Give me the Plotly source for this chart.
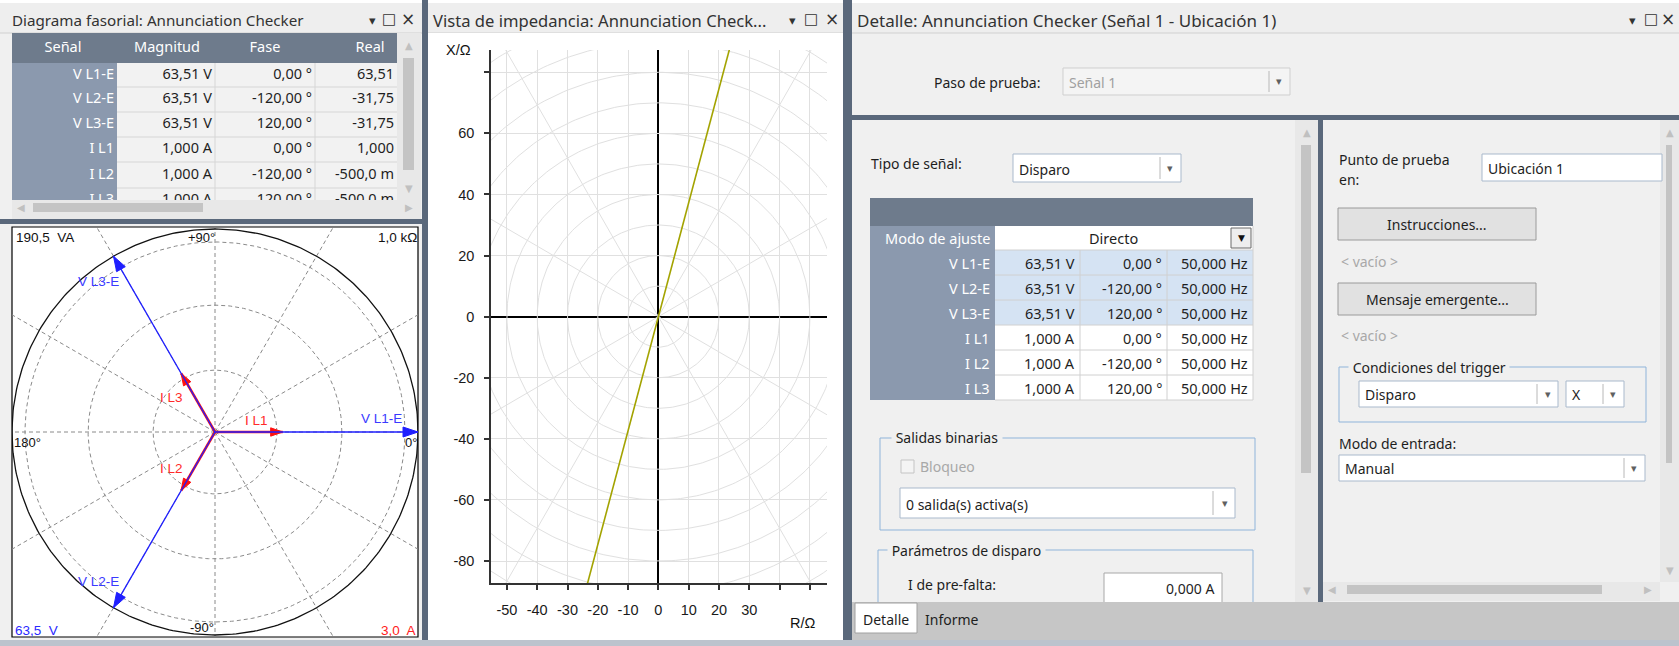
import numpy as np
import plotly.graph_objects as go

W, H = 1679, 646

# ---------------- data ----------------
signals = ["V L1-E", "V L2-E", "V L3-E", "I L1", "I L2", "I L3"]
magnitudes = [63.51, 63.51, 63.51, 1.000, 1.000, 1.000]
units = ["V", "V", "V", "A", "A", "A"]
phases_deg = [0.00, -120.00, 120.00, 0.00, -120.00, 120.00]
frequencies_hz = [50.000, 50.000, 50.000, 50.000, 50.000, 50.000]
real_parts = ["63,51", "-31,75", "-31,75", "1,000", "-500,0 m", "-500,0 m"]
table_headers = ["Señal", "Magnitud", "Fase", "Real"]

voltage_full_scale = 63.5   # V at outer circle
current_full_scale = 3.0    # A at outer circle
power_scale_label = "190,5  VA"
impedance_scale_label = "1,0 kΩ"
voltage_scale_label = "63,5  V"
current_scale_label = "3,0  A"

impedance_line_angle_deg = 75.0
r_ticks = [-50, -40, -30, -20, -10, 0, 10, 20, 30, 40, 50]
r_ticklabels = ["-50", "-40", "-30", "-20", "-10", "0", "10", "20", "30", "", ""]
x_ticks = [-80, -60, -40, -20, 0, 20, 40, 60, 80]
x_ticklabels = ["-80", "-60", "-40", "-20", "0", "20", "40", "60", ""]


def fmt_mag(m, u):
    return (f"{m:.2f}" if u == "V" else f"{m:.3f}").replace(".", ",") + " " + u


def fmt_phase(p):
    return f"{p:.2f}".replace(".", ",") + " °"


def fmt_freq(f):
    return f"{f:.3f}".replace(".", ",") + " Hz"


# ---------------- helpers (pixel -> paper) ----------------
UI = "Noto Sans"
ARIAL = "Liberation Sans"
SYM = "DejaVu Sans"
SEP = "#5a687b"
shapes, annotations = [], []


def rect(x0, y0, x1, y1, fill, line=None, lw=1):
    shapes.append(dict(type="rect", xref="paper", yref="paper", layer="below",
                       x0=x0 / W, x1=x1 / W, y0=1 - y1 / H, y1=1 - y0 / H,
                       fillcolor=fill,
                       line=dict(color=line if line else "rgba(0,0,0,0)", width=lw if line else 0)))


def seg(x0, y0, x1, y1, color, lw=1):
    shapes.append(dict(type="line", xref="paper", yref="paper", layer="below",
                       x0=x0 / W, y0=1 - y0 / H, x1=x1 / W, y1=1 - y1 / H,
                       line=dict(color=color, width=lw)))


def txt(x, y, s, size=14, color="#1e1e1e", anchor="left", font=UI, bg=None):
    a = dict(xref="paper", yref="paper", x=x / W, y=1 - y / H, text=s, showarrow=False,
             xanchor=anchor, yanchor="middle", borderpad=0,
             font=dict(family=font, size=size, color=color))
    if bg:
        a["bgcolor"] = bg
    annotations.append(a)


def combo(x0, y0, x1, y1, text, div, arrow_x, border="#a9b9cc", fill="#ffffff", color="#1e1e1e"):
    rect(x0, y0, x1, y1, fill, border, 1)
    seg(div, y0 + 3, div, y1 - 3, "#b8b8b8", 1)
    txt(arrow_x, (y0 + y1) / 2, "▾", 11, "#606060", "center", SYM)
    txt(x0 + 5, (y0 + y1) / 2 + 1, text, 14, color)


def button(x0, y0, x1, y1, text):
    rect(x0, y0, x1, y1, "#e1e1e1", "#9a9a9a", 1)
    txt((x0 + x1) / 2, (y0 + y1) / 2, text, 14, "#1e1e1e", "center")


def vscroll(x0, x1, y0, y1, t0, t1):
    rect(x0, y0, x1, y1, "#e8e8e8")
    rect(x0 + 6, t0, x1 - 7, t1, "#c4c4c4")
    txt((x0 + x1) / 2, y0 + 12, "▲", 10, "#c0c0c0", "center", SYM)
    txt((x0 + x1) / 2, y1 - 12, "▼", 10, "#c0c0c0", "center", SYM)


def hscroll(x0, x1, y0, y1, t0, t1):
    rect(x0, y0, x1, y1, "#e8e8e8")
    rect(t0, y0 + 3, t1, y1 - 7, "#c4c4c4")
    txt(x0 + 9, (y0 + y1) / 2 - 2, "◀", 10, "#c0c0c0", "center", SYM)
    txt(x1 - 12, (y0 + y1) / 2 - 2, "▶", 10, "#c0c0c0", "center", SYM)


def icons(xd, xs, xx):
    txt(xd, 20, "▾", 13, "#333333", "center", SYM)
    txt(xs, 19, "□", 15, "#333333", "center", SYM)
    txt(xx, 19, "×", 17, "#333333", "center", SYM)


# ---------------- window chrome ----------------
rect(0, 0, W, 3, "#ffffff")
for (a, b) in [(0, 422), (428, 843), (852, W)]:
    rect(a, 3, b, 33, "#eeeeee")
    seg(a, 33, b, 33, "#d0d0d0", 1)
txt(11, 20, "Diagrama fasorial: Annunciation Checker", 15.2, "#333333")
icons(372, 389, 408)
txt(432, 20, "Vista de impedancia: Annunciation Check...", 16.6, "#333333")
icons(792, 811, 832)
txt(856, 20, "Detalle: Annunciation Checker (Señal 1 - Ubicación 1)", 17, "#333333")
icons(1632, 1651, 1668)

# left panel: table frame
rect(12, 33, 397, 63, "#6e7b8c")
rect(12, 63, 117, 200, "#8b99ae")
rect(117, 63, 397, 200, "#f2f2f2")
for yb in [87, 112, 137, 162, 188]:
    seg(117, yb, 397, yb, "#d6d6d6", 1)
for xb in [215, 315]:
    seg(xb, 63, xb, 200, "#d6d6d6", 1)
vscroll(397, 421, 33, 200, 58, 170)
hscroll(12, 421, 200, 219, 33, 203)
rect(0, 219, 422, 224, SEP)
# phasor box
rect(12, 227, 418, 637, "#ffffff", "#000000", 1.2)
# separators
rect(422, 0, 428, H, SEP)
rect(843, 0, 852, H, SEP)

# middle panel
rect(428, 33, 843, 640, "#ffffff")

# right panel
rect(852, 115, W, 120, SEP)
vscroll(1295, 1318, 120, 602, 145, 473)
rect(1318, 120, 1323, 602, SEP)
vscroll(1660, 1679, 120, 582, 145, 463)
hscroll(1323, 1660, 582, 601, 1347, 1602)

txt(933, 82, "Paso de prueba:", 14)
combo(1063, 68, 1290, 95, "Señal 1", 1269, 1279, border="#cfcfcf", fill="#f4f4f4", color="#a0a0a0")

txt(870, 163, "Tipo de señal:", 14)
combo(1013, 154, 1181, 182, "Disparo", 1160, 1170)

# signal definition table
rect(870, 198, 1253, 226, "#6e7b8c")
rect(870, 226, 995, 400, "#8b99ae")
rect(995, 226, 1253, 250, "#ffffff")
txt(991, 238, "Modo de ajuste", 14.5, "#ffffff", "right")
txt(1113, 238, "Directo", 14.5, "#1e1e1e", "center")
rect(1231, 228, 1251, 248, "#eeeeee", "#6a6a6a", 1)
txt(1241, 238, "▼", 9, "#111111", "center", SYM)
cols = [995, 1080, 1167, 1253]
for i, s in enumerate(signals):
    y0 = 250 + 25 * i
    fill = "#d5e3f3" if units[i] == "V" else "#ffffff"
    rect(995, y0, 1253, y0 + 25, fill)
    seg(995, y0, 1253, y0, "#d0d0d0", 1)
    txt(991, y0 + 12.5, s, 14.5, "#ffffff", "right")
    txt(cols[1] - 4, y0 + 12.5, fmt_mag(magnitudes[i], units[i]), 14.5, "#1e1e1e", "right")
    txt(cols[2] - 4, y0 + 12.5, fmt_phase(phases_deg[i]), 14.5, "#1e1e1e", "right")
    txt(cols[3] - 4, y0 + 12.5, fmt_freq(frequencies_hz[i]), 14.5, "#1e1e1e", "right")
for xb in cols[1:3]:
    seg(xb, 250, xb, 400, "#d0d0d0", 1)
seg(995, 400, 1253, 400, "#d0d0d0", 1)
seg(1253, 226, 1253, 400, "#d0d0d0", 1)

# Salidas binarias group
GB = "#8fb4da"
rect(880, 438, 1255, 530, "rgba(0,0,0,0)", GB, 1)
txt(891, 438, " Salidas binarias ", 14, "#1e1e1e", "left", UI, "#f0f0f0")
rect(901, 460, 914, 473, "#f4f4f4", "#c4c4c4", 1)
txt(919, 466, "Bloqueo", 14, "#a8a8a8")
combo(900, 488, 1235, 518, "0 salida(s) activa(s)", 1213, 1225)

# Parámetros de disparo group
rect(878, 550, 1253, 700, "rgba(0,0,0,0)", GB, 1)
txt(887, 550, " Parámetros de disparo ", 14, "#1e1e1e", "left", UI, "#f0f0f0")
txt(907, 584, "I de pre-falta:", 14)
rect(1104, 573, 1222, 603, "#ffffff", "#a8a8a8", 1)
txt(1215, 588, "0,000 A", 14, "#1e1e1e", "right")

# right sub-panel
txt(1338, 160, "Punto de prueba", 14)
txt(1338, 179, "en:", 14)
rect(1482, 154, 1662, 181, "#ffffff", "#a9b9cc", 1)
txt(1487, 168, "Ubicación 1", 14)
button(1338, 208, 1536, 240, "Instrucciones...")
txt(1340, 261, "< vacío >", 14, "#a8a8a8")
button(1338, 283, 1536, 315, "Mensaje emergente...")
txt(1340, 335, "< vacío >", 14, "#a8a8a8")
rect(1339, 367, 1646, 422, "rgba(0,0,0,0)", GB, 1)
txt(1348, 367, " Condiciones del trigger ", 14, "#1e1e1e", "left", UI, "#f0f0f0")
combo(1359, 381, 1558, 407, "Disparo", 1537, 1548)
combo(1566, 381, 1624, 407, "X", 1603, 1613)
txt(1338, 443, "Modo de entrada:", 14)
combo(1339, 455, 1645, 481, "Manual", 1624, 1634)

# tab strip
rect(852, 602, W, 640, "#c6c6c6")
rect(855, 603, 917, 633, "#ffffff", "#a0a0a0", 1)
txt(886, 619, "Detalle", 14, "#1e1e1e", "center")
txt(924, 619, "Informe", 14, "#1e1e1e")

# bottom bar
rect(0, 640, W, H, "#bcc3cd")

# ---------------- figure ----------------
fig = go.Figure()

# impedance plane: polar guide grid
theta = np.linspace(0, 2 * np.pi, 361)
gx, gy = [], []
for r in range(10, 130, 10):
    gx += list(r * np.cos(theta)) + [None]
    gy += list(r * np.sin(theta)) + [None]
for a in range(0, 360, 30):
    if a % 90 == 0:
        continue
    gx += [0, 160 * np.cos(np.radians(a)), None]
    gy += [0, 160 * np.sin(np.radians(a)), None]
fig.add_trace(go.Scatter(x=gx, y=gy, mode="lines", line=dict(color="#e0e0e0", width=1),
                         hoverinfo="skip", xaxis="x", yaxis="y"))
ang = np.radians(impedance_line_angle_deg)
fig.add_trace(go.Scatter(x=[-160 * np.cos(ang), 160 * np.cos(ang)],
                         y=[-160 * np.sin(ang), 160 * np.sin(ang)],
                         mode="lines", line=dict(color="#a3a300", width=1.6),
                         hoverinfo="skip", xaxis="x", yaxis="y"))

# phasor diagram (1 unit = outer circle radius)
R_PX = 203.0
CX, CY = 215.0, 432.0   # centre of the phasor box in pixels
rings = [0.305, 0.625, 0.936]
px_, py_ = [], []
for r in rings:
    px_ += list(r * np.cos(theta)) + [None]
    py_ += list(r * np.sin(theta)) + [None]
for a in range(0, 360, 30):
    px_ += [0, 1.8 * np.cos(np.radians(a)), None]
    py_ += [0, 1.8 * np.sin(np.radians(a)), None]
fig.add_trace(go.Scatter(x=px_, y=py_, mode="lines",
                         line=dict(color="#8a8a8a", width=1, dash="4px,3px"),
                         hoverinfo="skip", xaxis="x2", yaxis="y2"))
fig.add_trace(go.Scatter(x=list(np.cos(theta)), y=list(np.sin(theta)), mode="lines",
                         line=dict(color="#111111", width=1.3),
                         hoverinfo="skip", xaxis="x2", yaxis="y2"))

label_shift = {"V L1-E": (-37, -14), "V L2-E": (-15, -26), "V L3-E": (-15, 25),
               "I L1": (-26, -12), "I L2": (-10, -22), "I L3": (-10, 24)}
order = [i for i in range(len(signals)) if units[i] == "A"] + \
        [i for i in range(len(signals)) if units[i] == "V"]
for i in order:
    isv = units[i] == "V"
    scale = voltage_full_scale if isv else current_full_scale
    r = magnitudes[i] / scale
    th = np.radians(phases_deg[i])
    ux, uy = np.cos(th), np.sin(th)
    tx, ty = r * ux, r * uy
    col = "#1f1fff" if isv else "#ff1010"
    fig.add_trace(go.Scatter(x=[0, tx], y=[0, ty], mode="lines",
                             line=dict(color=col, width=1.3 if isv else 2.6),
                             hoverinfo="skip", xaxis="x2", yaxis="y2"))
    L = (15 if isv else 12) / R_PX
    hw = (5 if isv else 4.2) / R_PX
    bx, by = tx - L * ux, ty - L * uy
    nx, ny = -uy, ux
    fig.add_trace(go.Scatter(x=[tx, bx + hw * nx, bx - hw * nx, tx],
                             y=[ty, by + hw * ny, by - hw * ny, ty],
                             mode="lines", fill="toself", fillcolor=col,
                             line=dict(color=col, width=1),
                             hoverinfo="skip", xaxis="x2", yaxis="y2"))
    dx, dy = label_shift[signals[i]]
    txt(CX + tx * R_PX + dx, CY - ty * R_PX + dy, signals[i], 13.5,
        "#3a3aff" if isv else "#ff2a2a", "center", ARIAL)

txt(15, 237, power_scale_label, 13.5, "#111111", "left", ARIAL)
txt(201, 237, "+90°", 13, "#111111", "center", ARIAL)
txt(418, 237, impedance_scale_label, 13.5, "#111111", "right", ARIAL)
txt(13, 442, "180°", 13, "#111111", "left", ARIAL)
txt(418, 442, "0°", 13, "#111111", "right", ARIAL)
txt(202, 627, "-90°", 13, "#111111", "center", ARIAL)
txt(14, 630, voltage_scale_label, 13.5, "#2a2aff", "left", ARIAL)
txt(417, 630, current_scale_label, 13.5, "#ff2020", "right", ARIAL)

# impedance axis titles
txt(459, 50, "X/Ω", 14.5, "#111111", "center", ARIAL)
txt(803, 623, "R/Ω", 14.5, "#111111", "center", ARIAL)

# left table text (clipped to its frame)
tx_, ty_, tt_, tp_, tc_ = [], [], [], [], []
for xh, h in zip([63, 167, 265, 370], table_headers):
    tx_.append(xh); ty_.append(48); tt_.append(h); tp_.append("middle center"); tc_.append("#ffffff")
row_y = [75, 99.5, 124.5, 149.5, 175, 200.5]
for i, s in enumerate(signals):
    y = row_y[i]
    vals = [s, fmt_mag(magnitudes[i], units[i]), fmt_phase(phases_deg[i]), real_parts[i]]
    for xv, v, c in zip([114, 212, 312, 394], vals, ["#ffffff", "#1e1e1e", "#1e1e1e", "#1e1e1e"]):
        tx_.append(xv); ty_.append(y); tt_.append(v); tp_.append("middle left"); tc_.append(c)
fig.add_trace(go.Scatter(x=tx_, y=ty_, text=tt_, mode="text", textposition=tp_,
                         textfont=dict(family=UI, size=14.5, color=tc_), cliponaxis=True,
                         hoverinfo="skip", xaxis="x3", yaxis="y3"))

axis_common = dict(showline=True, linecolor="#333333", linewidth=1.5, ticks="outside",
                   ticklen=5, tickwidth=1.5, tickcolor="#333333", showgrid=True,
                   gridcolor="#e0e0e0", gridwidth=1, zeroline=True, zerolinecolor="#000000",
                   zerolinewidth=1.5, tickfont=dict(family=ARIAL, size=14.5, color="#1a1a1a"),
                   fixedrange=True)

fig.update_layout(
    width=W, height=H, margin=dict(l=0, r=0, t=0, b=0),
    paper_bgcolor="#f0f0f0", plot_bgcolor="rgba(0,0,0,0)", showlegend=False,
    shapes=shapes, annotations=annotations,
    xaxis=dict(domain=[491 / W, 827 / W], range=[-55.25, 55.65], anchor="y",
               tickmode="array", tickvals=r_ticks, ticktext=r_ticklabels,
               ticklabelstandoff=8, **axis_common),
    yaxis=dict(domain=[1 - 583 / H, 1 - 50 / H], range=[-87.2, 87.3], anchor="x",
               tickmode="array", tickvals=x_ticks, ticktext=x_ticklabels,
               ticklabelstandoff=7, **axis_common),
    xaxis2=dict(domain=[12 / W, 418 / W], range=[-1.0, 1.0], visible=False, anchor="y2",
                fixedrange=True),
    yaxis2=dict(domain=[1 - 637 / H, 1 - 227 / H], range=[-1.0099, 1.0099], visible=False,
                anchor="x2", fixedrange=True),
    xaxis3=dict(domain=[12 / W, 397 / W], range=[12, 397], visible=False, anchor="y3",
                fixedrange=True),
    yaxis3=dict(domain=[1 - 200 / H, 1 - 33 / H], range=[200, 33], visible=False, anchor="x3",
                fixedrange=True),
)

fig.write_html("out.html", config={"displayModeBar": False},
               post_script="document.body.style.margin='0';document.body.style.overflow='hidden';")
